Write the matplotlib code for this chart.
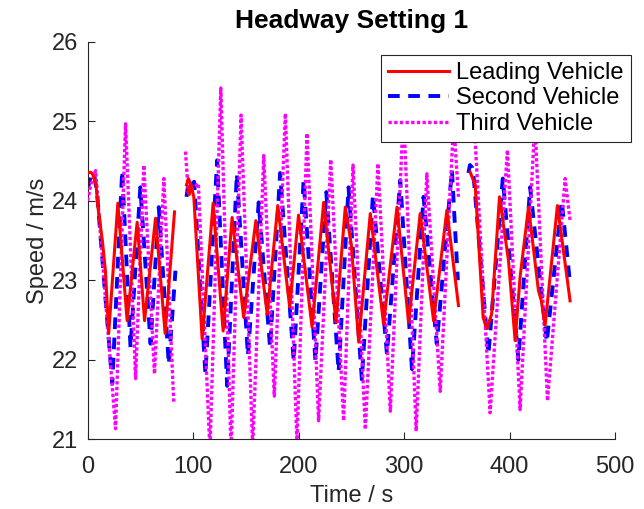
import numpy as np
import matplotlib
matplotlib.use('Agg')
import matplotlib.pyplot as plt

nan = np.nan

# Leading vehicle (time s, speed m/s), nan = gap in record
lead_t = [0, 3, 5, 8, 10, 14, 17, 20, 28.7, 37.5, 47, 54, 64.4, 73.5, 82.4,
          nan,
          93.8, 95.5, 97.5, 96.5, 95, 98, 100.7, 108.6, 119, 128.5, 137, 148,
          159.5, 170.3, 180.3, 191.6, 200, 212.8, 223.8, 235.5, 244.3, 250,
          257, 268, 280.6, 293.3, 304.3, 315.3, 328, 340.6, 351.6,
          nan,
          362.7, 367.4, 375, 378.5, 383, 390.5, 399, 405.3, 410, 418,
          427.4, 430, 433.7, 445.4, 457.4]
lead_v = [24.35, 24.36, 24.33, 24.2, 23.9, 23.5, 23.1, 22.33, 23.97, 22.49,
          23.73, 22.49, 23.78, 22.33, 23.86,
          nan,
          24.2, 24.28, 24.22, 24.08, 24.12, 24.2, 24.05, 22.26, 23.97, 22.36,
          23.79, 22.53, 23.75, 22.57, 23.94, 22.66, 23.82, 22.41, 23.98,
          22.47, 23.92, 23.45, 22.22, 23.84, 22.45, 23.92, 22.47, 23.84,
          22.49, 23.88, 22.68,
          nan,
          24.36, 24.2, 22.53, 22.39, 22.57, 24.05, 23.25, 22.24, 23.04,
          23.92, 22.87, 22.75, 22.43, 23.94, 22.74]

# Second vehicle
second_t = [0, 3, 6, 9, 23.4, 32.8, 40.7, 50, 59.7, 67.5, 77, 83.3,
            nan,
            93.8, 95.5, 98, 101, 111.7, 122.8, 132.3, 141.5, 152, 162.2,
            173, 182.5, 195.4, 204.8, 216, 226.3, 238, 247.4, 260, 270.5,
            283.8, 296.4, 307.5, 318.5, 331, 345.4, 351,
            nan,
            361, 362.5, 364.5, 366, 380, 393.6, 408.4, 419.5, 435.3, 449.5,
            457.4]
second_v = [24.15, 24.3, 24.35, 24.1, 21.7, 24.38, 22.15, 24.17, 22.2, 23.92,
            21.94, 23.12,
            nan,
            24.05, 24.22, 24.18, 24.24, 21.82, 24.51, 21.67, 24.34, 22.05,
            23.98, 22.15, 24.35, 21.98, 24.26, 21.98, 24.11, 21.85, 24.17,
            21.75, 24.07, 22.07, 24.26, 21.88, 24.05, 22.2, 24.38, 23.0,
            nan,
            24.35, 24.45, 24.42, 24.3, 22.07, 24.28, 22.0, 24.17, 22.22,
            24.0, 22.95]

# Third vehicle
third_t = [0, 3, 7.6, 26.5, 36, 45.5, 53.3, 63.4, 72.3, 81.7,
           nan,
           92.8, 95.5, 99, 105, 116, 126.3, 136, 145.5, 156.5, 167, 177,
           187.5, 198.5, 208, 219, 230.5, 242.7, 251.6, 263.3, 275.3, 287,
           299.5, 311.5, 321.6, 334.3, 347, 351.6,
           nan,
           361, 366, 381.6, 398, 410, 424, 436, 452.7, 457.4]
third_v = [24.0, 24.2, 24.38, 21.13, 24.97, 21.76, 24.45, 21.82, 24.28, 21.46,
           nan,
           24.62, 24.1, 24.15, 24.22, 20.85, 25.42, 20.85, 25.08, 20.9,
           24.57, 21.54, 25.1, 20.95, 24.85, 21.23, 24.52, 21.23, 24.45,
           21.12, 24.47, 21.35, 25.15, 21.1, 24.34, 21.6, 25.0, 24.05,
           nan,
           24.8, 25.1, 21.33, 24.64, 21.37, 25.0, 21.48, 24.28, 23.75]

plt.rcParams['font.family'] = ['Liberation Sans', 'DejaVu Sans']

fig = plt.figure(figsize=(6.44, 5.09), dpi=100)
ax = fig.add_axes([0.136, 0.1375, 0.819, 0.78])

l1, = ax.plot(lead_t, lead_v, color='#ff0000', lw=2.2, zorder=4,
              label='Leading Vehicle')
l2, = ax.plot(second_t, second_v, color='#0000ff', lw=2.8, ls='--',
              dashes=(3, 2.2), zorder=2, label='Second Vehicle')
l3, = ax.plot(third_t, third_v, color='#ff00ff', lw=2.4, ls=':',
              dashes=(1, 0.7), zorder=3, label='Third Vehicle')

ax.set_xlim(0, 500)
ax.set_ylim(21, 26)
ax.set_xticks([0, 100, 200, 300, 400, 500])
ax.set_yticks([21, 22, 23, 24, 25, 26])
ax.tick_params(direction='in', length=5, width=0.8, labelsize=17,
               colors='#262626')
ax.tick_params(axis='x', pad=12)
ax.tick_params(axis='y', pad=7)
for s in ['top', 'right']:
    ax.spines[s].set_visible(False)
for s in ['left', 'bottom']:
    ax.spines[s].set_color('#262626')
    ax.spines[s].set_linewidth(0.8)

ax.set_xlabel('Time / s', fontsize=17, color='#262626', labelpad=5)
ax.set_ylabel('Speed / m/s', fontsize=17, color='#262626', labelpad=2)
ax.set_title('Headway Setting 1', fontsize=19, fontweight='bold', pad=10)

leg = ax.legend(handles=[l1, l2, l3], loc='upper right',
                bbox_to_anchor=(1.03, 0.968), fontsize=17, frameon=True,
                fancybox=False, framealpha=1, edgecolor='#262626',
                handlelength=2.6, handletextpad=0.3, borderpad=0.3,
                labelspacing=0.15, borderaxespad=0)
leg.get_frame().set_linewidth(0.8)
leg.set_zorder(10)

fig.savefig('out.png', dpi=100)
